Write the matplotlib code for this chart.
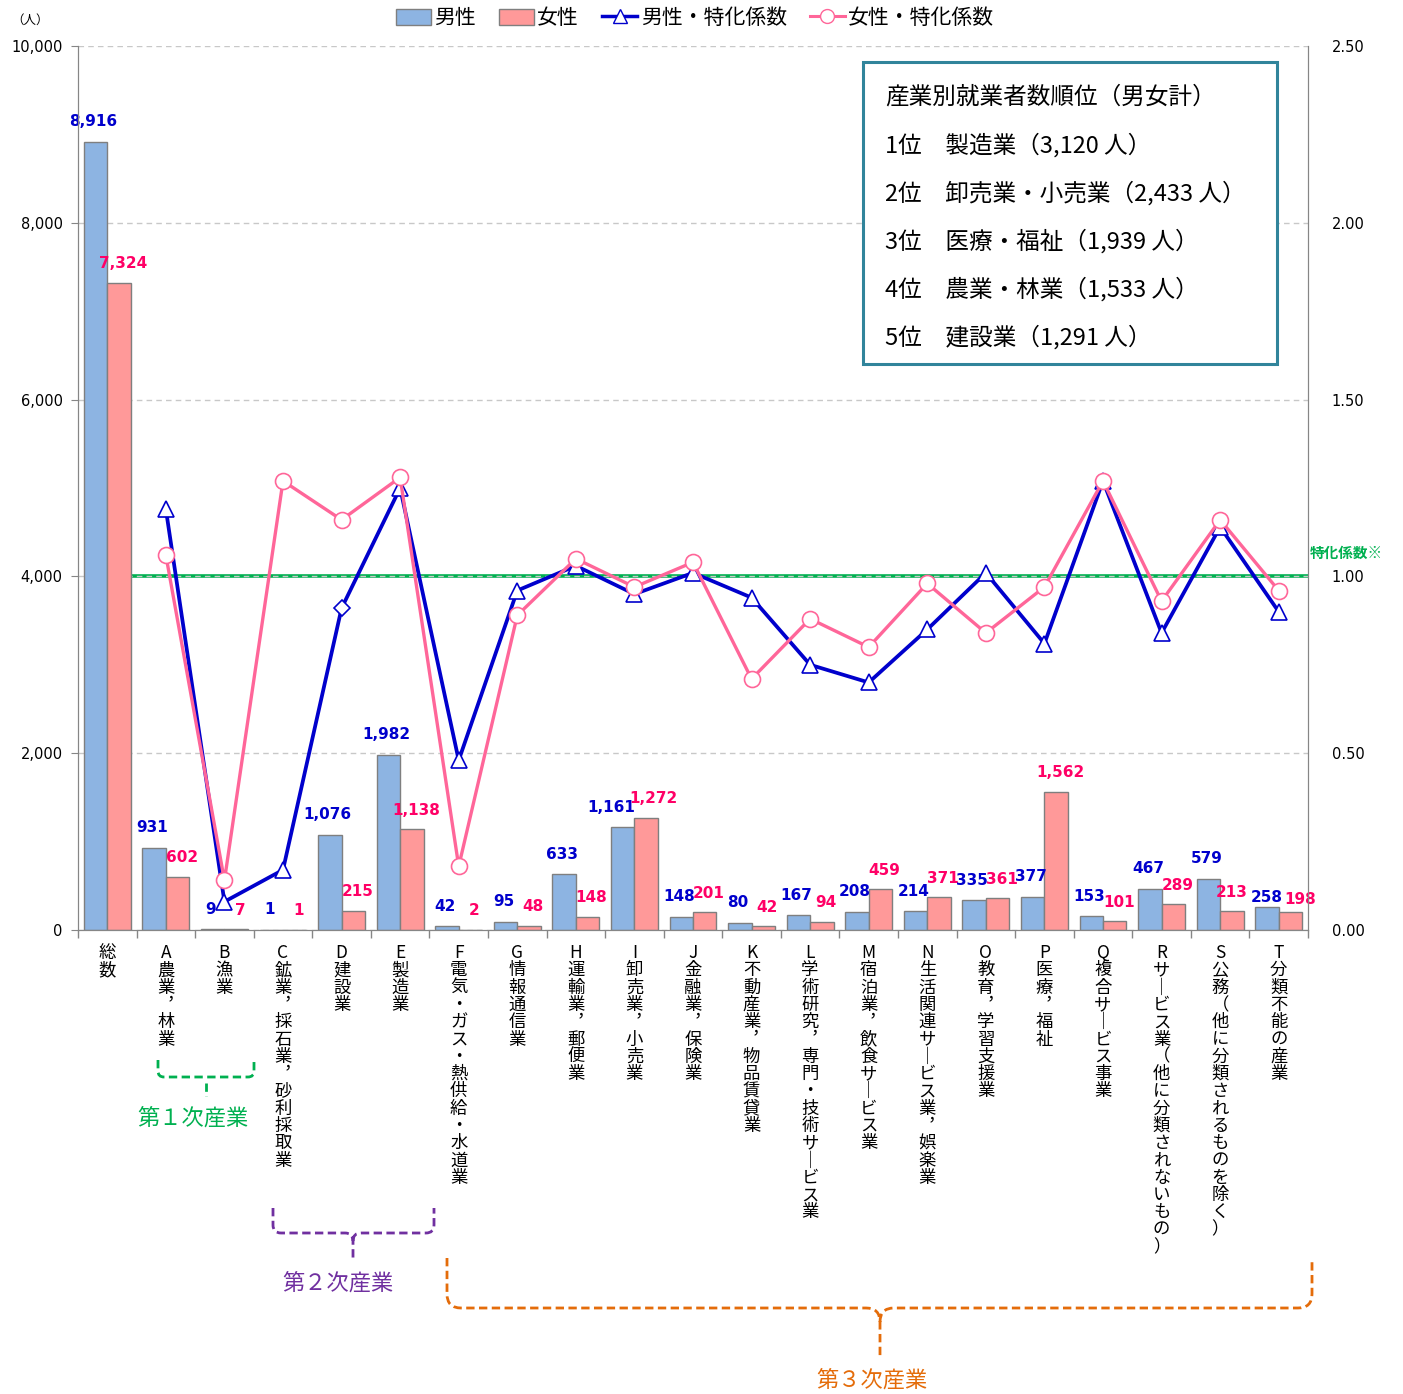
import numpy as np
import matplotlib
matplotlib.use('Agg')
import matplotlib.pyplot as plt
from matplotlib.patches import Patch, Rectangle, PathPatch
from matplotlib.lines import Line2D
from matplotlib.path import Path
from matplotlib.ticker import FuncFormatter

JP = 'Noto Sans CJK JP'
NUM = 'DejaVu Sans'
plt.rcParams['font.family'] = [JP, 'DejaVu Sans']

# ── data ──────────────────────────────────────────────────────────────
letters = ['', 'A', 'B', 'C', 'D', 'E', 'F', 'G', 'H', 'I', 'J',
           'K', 'L', 'M', 'N', 'O', 'P', 'Q', 'R', 'S', 'T']
industries = ['総数', '農業，林業', '漁業', '鉱業，採石業，砂利採取業', '建設業',
              '製造業', '電気・ガス・熱供給・水道業', '情報通信業', '運輸業，郵便業',
              '卸売業，小売業', '金融業，保険業', '不動産業，物品賃貸業',
              '学術研究，専門・技術サービス業', '宿泊業，飲食サービス業',
              '生活関連サービス業，娯楽業', '教育，学習支援業', '医療，福祉',
              '複合サービス事業', 'サービス業（他に分類されないもの）',
              '公務（他に分類されるものを除く）', '分類不能の産業']
male = [8916, 931, 9, 1, 1076, 1982, 42, 95, 633, 1161, 148,
        80, 167, 208, 214, 335, 377, 153, 467, 579, 258]
female = [7324, 602, 7, 1, 215, 1138, 2, 48, 148, 1272, 201,
          42, 94, 459, 371, 361, 1562, 101, 289, 213, 198]
# 特化係数 (A..T)
male_coef = [1.19, 0.08, 0.17, 0.91, 1.25, 0.48, 0.96, 1.03, 0.95, 1.01,
             0.94, 0.75, 0.70, 0.85, 1.01, 0.81, 1.27, 0.84, 1.14, 0.90]
female_coef = [1.06, 0.14, 1.27, 1.16, 1.28, 0.18, 0.89, 1.05, 0.97, 1.04,
               0.71, 0.88, 0.80, 0.98, 0.84, 0.97, 1.27, 0.93, 1.16, 0.96]
coef_ref = 1.0

ranking = ['産業別就業者数順位（男女計）',
           '1位　製造業（3,120 人）',
           '2位　卸売業・小売業（2,433 人）',
           '3位　医療・福祉（1,939 人）',
           '4位　農業・林業（1,533 人）',
           '5位　建設業（1,291 人）']

C_MALE_BAR, C_FEMALE_BAR = '#8DB4E2', '#FF9999'
C_MALE, C_FEMALE = '#0000CC', '#FF6699'
C_MALE_TXT, C_FEMALE_TXT = '#0000CC', '#FF0066'
C_GREEN, C_PURPLE, C_ORANGE = '#00B050', '#7030A0', '#E46C0A'

# extra label nudges (pixels) where neighbouring labels would collide
male_nudge = {'I': (-9, 0), 'T': (2, -10)}
female_nudge = {'I': (3, 0), 'S': (-4, 0), 'T': (6, -6)}

W, H = 1403, 1394
fig = plt.figure(figsize=(W / 100, H / 100), dpi=100)


def fx(px):
    return px / W


def fy(py):
    return 1 - py / H


ax = fig.add_axes([fx(78), fy(930), (1308 - 78) / W, (930 - 46) / H])
x = np.arange(len(male))
xc = x[1:]

ax.bar(x - 0.2, male, 0.4, color=C_MALE_BAR, edgecolor='#7F7F7F', lw=1, zorder=2)
ax.bar(x + 0.2, female, 0.4, color=C_FEMALE_BAR, edgecolor='#7F7F7F', lw=1, zorder=2)

ax.set_xlim(-0.5, len(male) - 0.5)
ax.set_ylim(0, 10000)
ax.set_yticks(np.arange(0, 10001, 2000))
ax.yaxis.set_major_formatter(FuncFormatter(lambda v, p: f'{int(v):,}'))
ax.yaxis.grid(True, ls=(0, (4, 3)), color='#C8C8C8', lw=1)
ax.set_axisbelow(True)
ax.set_xticks(np.arange(-0.5, len(male), 1))
ax.set_xticklabels([])
ax.tick_params(axis='x', length=6, color='#868686', width=1)
ax.tick_params(axis='y', length=5, color='#868686', pad=6, labelsize=10.5)
for lab in ax.get_yticklabels():
    lab.set_family(NUM)
for s in ['left', 'bottom', 'right']:
    ax.spines[s].set_color('#868686')
ax.spines['top'].set_visible(False)

# reference line for 特化係数 = 1.00
ax.plot([0.4, len(male) - 0.5], [coef_ref * 4000, coef_ref * 4000],
        color=C_GREEN, lw=2.6, zorder=0.3, solid_capstyle='butt')

# bar labels
for i in x:
    mdx, mdy = male_nudge.get(letters[i], (0, 0))
    fdx, fdy = female_nudge.get(letters[i], (0, 0))
    ax.annotate(f'{male[i]:,}', (i - 0.2, male[i]), xytext=(-2 + mdx, 20 + mdy),
                textcoords='offset pixels', ha='center', va='center',
                fontsize=11, fontweight='bold', color=C_MALE_TXT, family=NUM)
    ax.annotate(f'{female[i]:,}', (i + 0.2, female[i]), xytext=(4 + fdx, 19 + fdy),
                textcoords='offset pixels', ha='center', va='center',
                fontsize=11, fontweight='bold', color=C_FEMALE_TXT, family=NUM)

# right axis: 特化係数
ax2 = ax.twinx()
ax2.set_ylim(0, 2.5)
ax2.set_yticks(np.arange(0, 2.51, 0.5))
ax2.yaxis.set_major_formatter(FuncFormatter(lambda v, p: f'{v:.2f}'))
ax2.tick_params(axis='y', length=0, pad=17, labelsize=10.5)
for lab in ax2.get_yticklabels():
    lab.set_family(NUM)
for s in ['left', 'bottom', 'right']:
    ax2.spines[s].set_color('#868686')
ax2.spines['top'].set_visible(False)

ax2.plot(xc, male_coef, color=C_MALE, lw=2.7, zorder=3)
tri = [k for k in range(len(xc)) if letters[xc[k]] != 'D']
dia = [k for k in range(len(xc)) if letters[xc[k]] == 'D']
ax2.plot(xc[tri], np.array(male_coef)[tri], ls='none', marker='^', ms=11,
         mfc='white', mec=C_MALE, mew=1.2, zorder=3)
ax2.plot(xc[dia], np.array(male_coef)[dia], ls='none', marker='D', ms=8,
         mfc='white', mec=C_MALE, mew=1.2, zorder=3)
ax2.plot(xc, female_coef, color=C_FEMALE, lw=2.4, marker='o', ms=11.5,
         mfc='white', mec=C_FEMALE, mew=1.2, zorder=4)

# vertical category labels (one character per line)
SUBST = {'ー': '｜', '，': '︐'}
for i in x:
    chars = [SUBST.get(ch, ch) for ch in letters[i] + industries[i]]
    ax.annotate('\n'.join(chars), xy=(i, 0), xycoords=('data', 'axes fraction'),
                xytext=(0, -14), textcoords='offset pixels', ha='center',
                va='top', fontsize=12.5, family=JP, linespacing=0.95,
                annotation_clip=False)

# legend
handles = [Patch(fc=C_MALE_BAR, ec='#7F7F7F'),
           Patch(fc=C_FEMALE_BAR, ec='#7F7F7F'),
           Line2D([], [], color=C_MALE, lw=2.5, marker='^', ms=10, mfc='white', mec=C_MALE),
           Line2D([], [], color=C_FEMALE, lw=2.2, marker='o', ms=10, mfc='white', mec=C_FEMALE)]
fig.legend(handles, ['男性', '女性', '男性・特化係数', '女性・特化係数'],
           loc='center', bbox_to_anchor=(fx(695), fy(18)), ncol=4, frameon=False,
           prop={'family': JP, 'size': 15}, handlelength=1.7, handleheight=0.8,
           handletextpad=0.15, columnspacing=1.1)

fig.text(fx(30), fy(20), '（人）', fontsize=9, ha='center', va='center', family=JP)
fig.text(fx(1310), fy(553), '特化係数※', fontsize=10.5, fontweight='bold',
         color=C_GREEN, ha='left', va='center', family=JP)

# ranking box
fig.add_artist(Rectangle((fx(863), fy(364)), (1277 - 863) / W, (364 - 62) / H,
                         transform=fig.transFigure, fc='white', ec='#31849B',
                         lw=2.2, zorder=5))
for k, line in enumerate(ranking):
    fig.text(fx(885), fy(97 + 48 * k), line, fontsize=17, ha='left', va='center',
             family=JP, zorder=6)


# industry-sector brackets
def bracket(x0, x1, xm, ytop, ybot, ytip, r, color, split=True):
    verts = [(x0, ytop), (x0, ybot - r), (x0, ybot), (x0 + r, ybot)]
    codes = [Path.MOVETO, Path.LINETO, Path.CURVE3, Path.CURVE3]
    if split:
        verts += [(xm - r, ybot), (xm, ybot), (xm, ybot + r),
                  (xm, ytip), (xm, ybot + r), (xm, ybot), (xm + r, ybot)]
        codes += [Path.LINETO, Path.CURVE3, Path.CURVE3,
                  Path.LINETO, Path.MOVETO, Path.CURVE3, Path.CURVE3]
    verts += [(x1 - r, ybot), (x1, ybot), (x1, ybot - r), (x1, ytop)]
    codes += [Path.LINETO, Path.CURVE3, Path.CURVE3, Path.LINETO]
    verts = [(fx(a), fy(b)) for a, b in verts]
    fig.add_artist(PathPatch(Path(verts, codes), transform=fig.transFigure,
                             fill=False, ec=color, lw=2, ls=(0, (3, 1.6))))


bracket(158, 254, 206, 1060, 1077, 0, 6, C_GREEN, split=False)
fig.add_artist(Line2D([fx(206), fx(206)], [fy(1083), fy(1096)], transform=fig.transFigure,
                      color=C_GREEN, lw=2, ls=(0, (3, 1.6))))
bracket(273, 434, 353, 1208, 1233, 1258, 8, C_PURPLE)
bracket(447, 1312, 880, 1258, 1308, 1358, 14, C_ORANGE)

fig.text(fx(193), fy(1118), '第１次産業', fontsize=16, color=C_GREEN, ha='center', va='center')
fig.text(fx(338), fy(1283), '第２次産業', fontsize=16, color=C_PURPLE, ha='center', va='center')
fig.text(fx(872), fy(1380), '第３次産業', fontsize=16, color=C_ORANGE, ha='center', va='center')

fig.savefig('out.png', dpi=100)
